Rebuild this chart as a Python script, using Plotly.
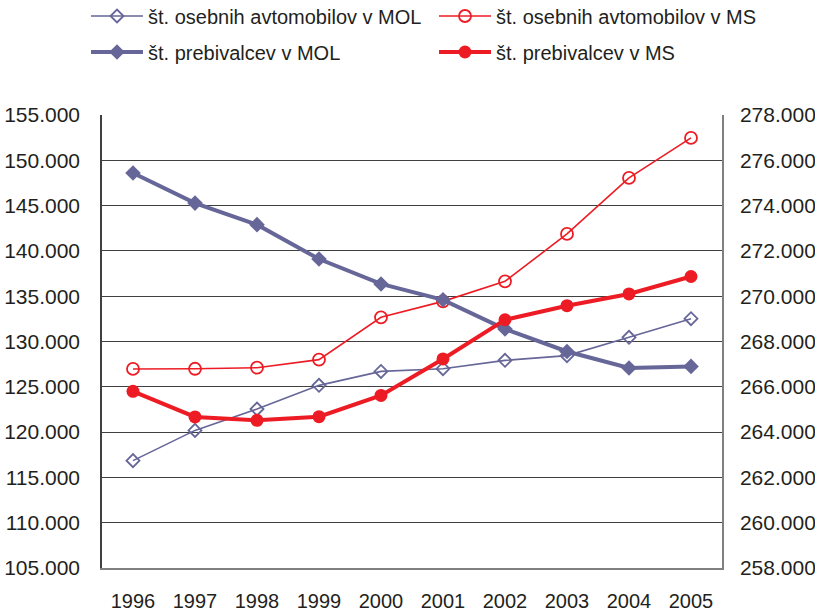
import plotly.graph_objects as go

years = ["1996", "1997", "1998", "1999", "2000", "2001", "2002", "2003", "2004", "2005"]

cars_mol = [116850, 120190, 122550, 125160, 126700, 127000, 127920, 128440, 130460, 132520]
cars_ms = [126970, 126990, 127110, 128000, 132670, 134430, 136640, 141870, 148060, 152470]
pop_mol = [275440, 274110, 273160, 271640, 270540, 269840, 268550, 267560, 266830, 266900]
pop_ms = [265800, 264670, 264520, 264680, 265620, 267230, 268960, 269580, 270100, 270870]

names = [
    "št. osebnih avtomobilov v MOL",
    "št. osebnih avtomobilov v MS",
    "št. prebivalcev v MOL",
    "št. prebivalcev v MS",
]

BLUE = "#666699"
RED = "#ED1C24"
FONT = "Liberation Sans, Arial, sans-serif"
TXT = "#231F20"

fig = go.Figure()

fig.add_trace(go.Scatter(
    x=years, y=cars_mol, name=names[0], mode="lines+markers",
    line=dict(color=BLUE, width=1.6),
    marker=dict(symbol="diamond-open", size=10, color=BLUE, line=dict(width=1.8, color=BLUE)),
    legend="legend", yaxis="y"))
fig.add_trace(go.Scatter(
    x=years, y=cars_ms, name=names[1], mode="lines+markers",
    line=dict(color=RED, width=1.6),
    marker=dict(symbol="circle-open", size=12, color=RED, line=dict(width=1.8, color=RED)),
    legend="legend2", yaxis="y"))
fig.add_trace(go.Scatter(
    x=years, y=pop_mol, name=names[2], mode="lines+markers",
    line=dict(color=BLUE, width=4),
    marker=dict(symbol="diamond", size=12, color=BLUE),
    legend="legend3", yaxis="y2"))
fig.add_trace(go.Scatter(
    x=years, y=pop_ms, name=names[3], mode="lines+markers",
    line=dict(color=RED, width=4),
    marker=dict(symbol="circle", size=13, color=RED),
    legend="legend4", yaxis="y2"))

legend_common = dict(
    orientation="h", xref="container", yref="container",
    xanchor="left", yanchor="middle",
    font=dict(family=FONT, size=20, color=TXT),
    itemwidth=52, bgcolor="rgba(0,0,0,0)",
    itemclick=False, itemdoubleclick=False,
)

COL1 = 86 / 815
COL2 = 434 / 815
ROW1 = 1 - 16 / 612
ROW2 = 1 - 52 / 612

fig.update_layout(
    width=815, height=612,
    paper_bgcolor="white", plot_bgcolor="white",
    margin=dict(l=102, r=93, t=115, b=44, autoexpand=False),
    separators=",.",
    font=dict(family=FONT, size=20, color=TXT),
    showlegend=True,
    legend=dict(x=COL1, y=ROW1, **legend_common),
    legend2=dict(x=COL2, y=ROW1, **legend_common),
    legend3=dict(x=COL1, y=ROW2, **legend_common),
    legend4=dict(x=COL2, y=ROW2, **legend_common),
    xaxis=dict(
        type="category", categoryorder="array", categoryarray=years,
        range=[-0.5, len(years) - 0.5], autorange=False,
        showgrid=False, showline=True, linecolor="#808080", linewidth=1.5,
        ticks="", ticklabelstandoff=14, automargin=False,
        tickfont=dict(family=FONT, size=20, color=TXT),
        zeroline=False,
    ),
    yaxis=dict(
        range=[105000, 155000], dtick=5000, tick0=105000, tickformat=",d",
        showgrid=True, gridcolor="#404040", gridwidth=1,
        showline=True, linecolor="#404040", linewidth=1.5,
        ticks="", ticklabelstandoff=16, zeroline=False, automargin=False,
        tickfont=dict(family=FONT, size=21, color=TXT),
    ),
    yaxis2=dict(
        range=[258000, 278000], dtick=2000, tick0=258000, tickformat=",d",
        overlaying="y", side="right", showgrid=False,
        showline=True, linecolor="#808080", linewidth=1.5,
        ticks="", ticklabelstandoff=12, zeroline=False, automargin=False,
        tickfont=dict(family=FONT, size=21, color=TXT),
    ),
)

fig.write_html(
    "out.html",
    config={"displayModeBar": False},
    post_script="document.body.style.margin='0px';",
)
